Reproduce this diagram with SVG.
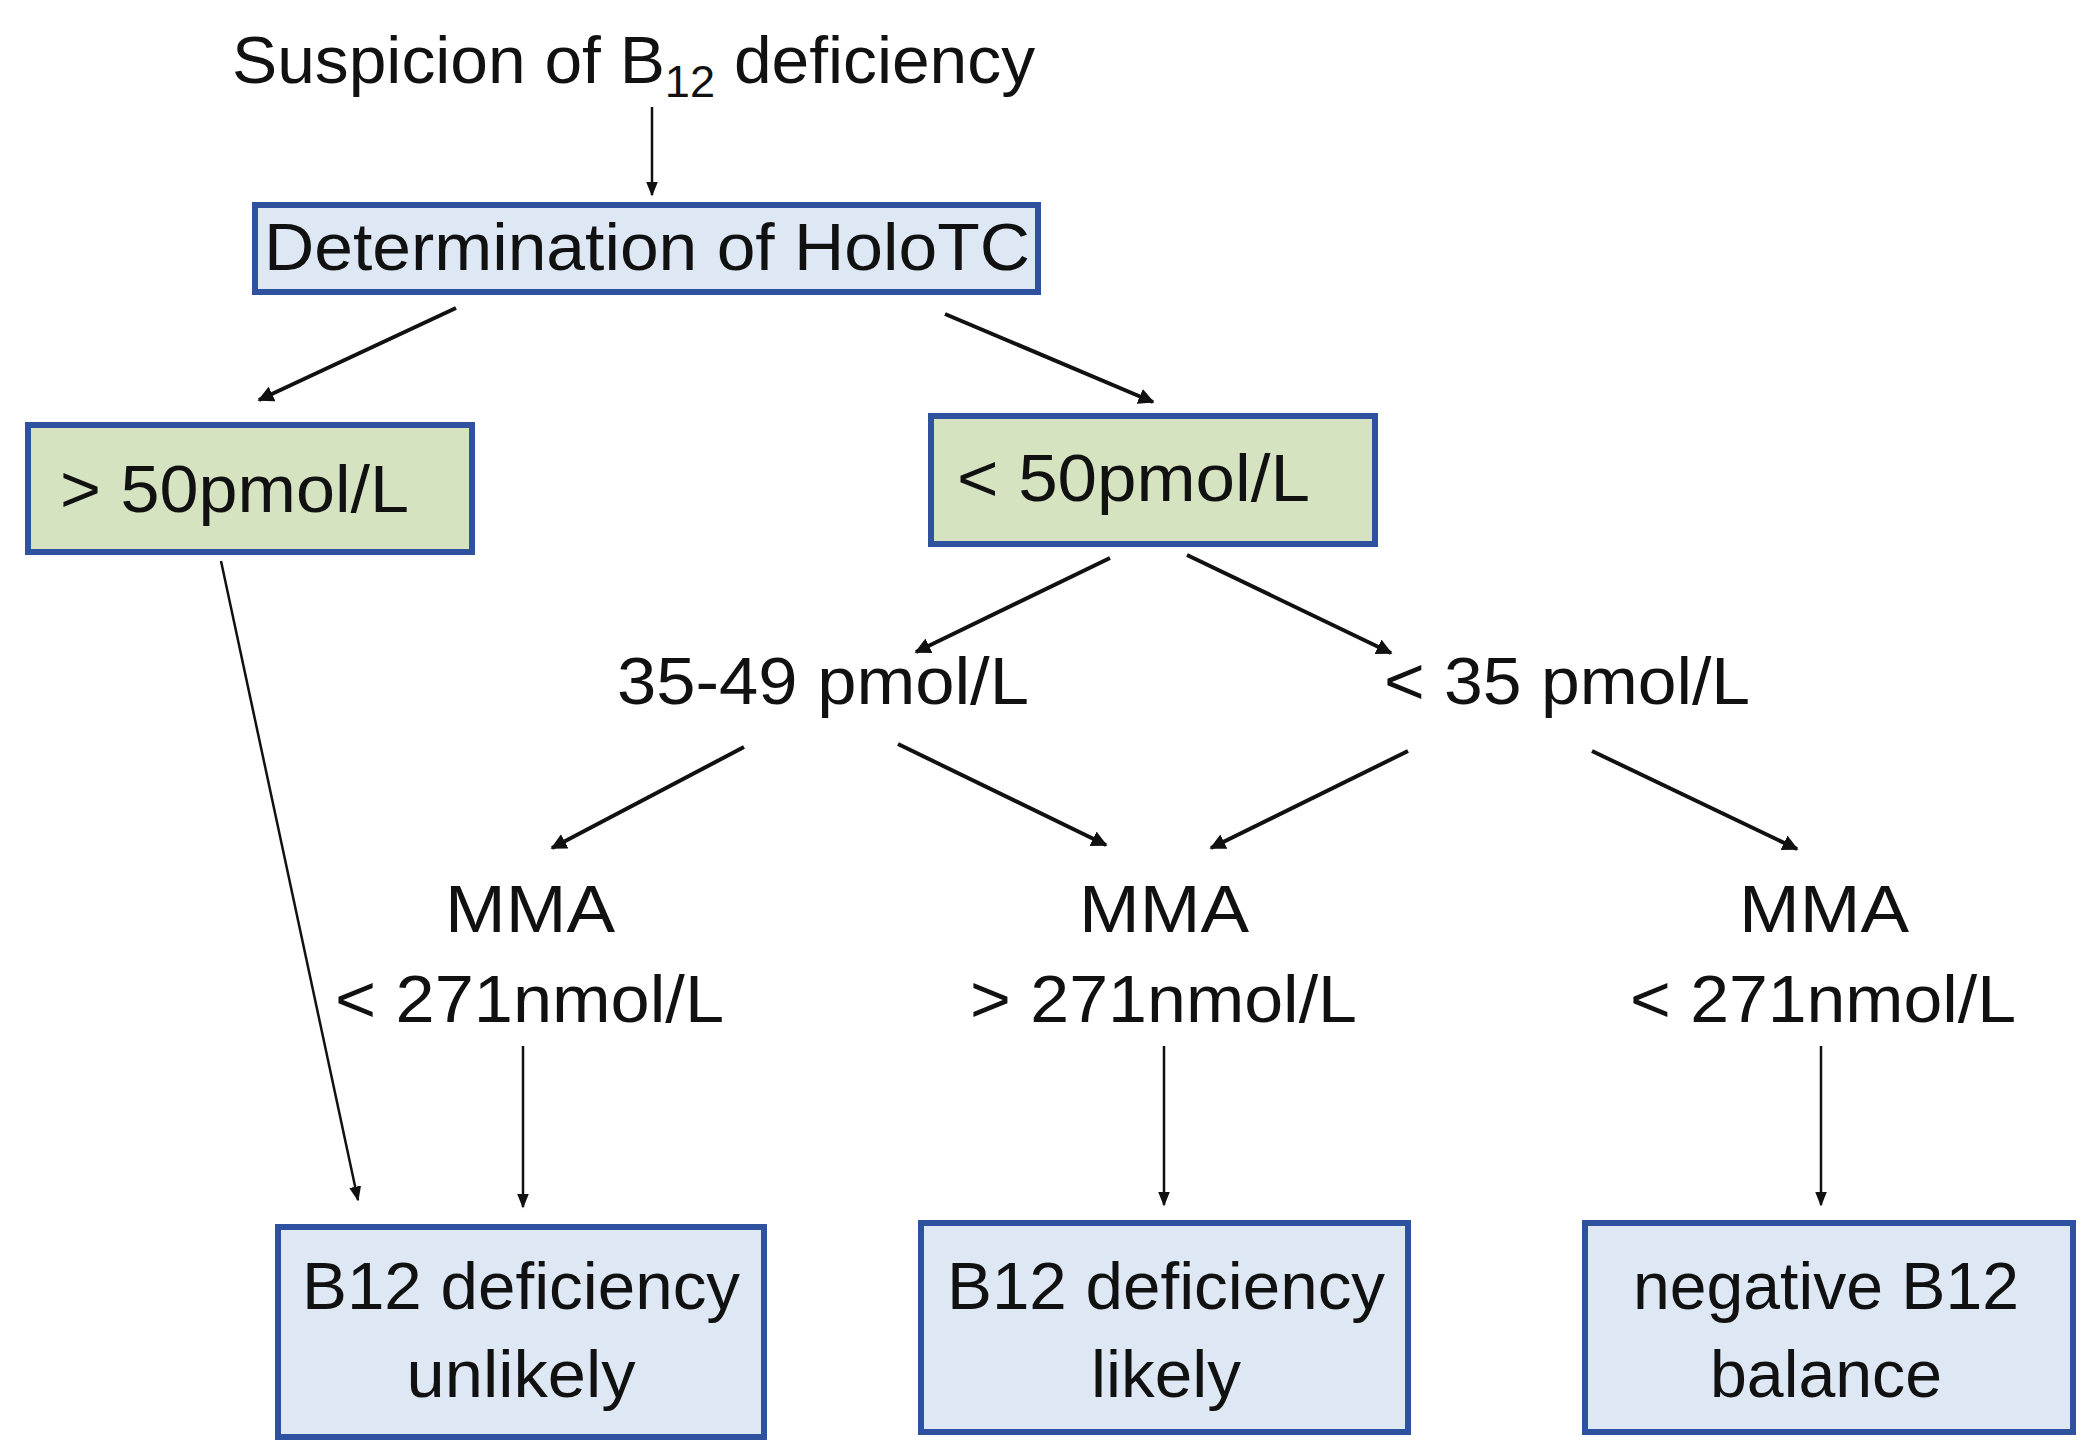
<svg xmlns="http://www.w3.org/2000/svg" width="2092" height="1452" viewBox="0 0 2092 1452">
<style>
text{font-family:"Liberation Sans",Arial,sans-serif;font-size:66px;fill:#111}
.c{text-anchor:middle}
.blue{fill:#DEE8F4;stroke:#2F52A0;stroke-width:6}
.green{fill:#D5E3C0;stroke:#2F52A0;stroke-width:6}
.ln{stroke:#111;stroke-width:4;fill:none;marker-end:url(#ah)}
.thin{stroke:#111;stroke-width:2.5;fill:none;marker-end:url(#ah2)}
</style>
<defs>
<marker id="ah" viewBox="0 0 10 10" refX="9" refY="5" markerWidth="4" markerHeight="4" orient="auto"><path d="M0,0 L10,5 L0,10 z" fill="#111"/></marker>
<marker id="ah2" viewBox="0 0 10 10" refX="9" refY="5" markerWidth="6" markerHeight="6" orient="auto"><path d="M0,1 L10,5 L0,9 z" fill="#111"/></marker>
</defs>
<rect width="2092" height="1452" fill="#fff"/>
<g id="title"><text x="232" y="83" textLength="803" lengthAdjust="spacingAndGlyphs">Suspicion of B<tspan font-size="44" dy="14">12</tspan><tspan dy="-14"> deficiency</tspan></text></g>
<g id="holotc"><rect class="blue" x="255" y="205" width="783" height="87"/><text x="264" y="270" textLength="766" lengthAdjust="spacingAndGlyphs">Determination of HoloTC</text></g>
<g id="gt50"><rect class="green" x="28" y="425" width="444" height="127"/><text x="60" y="512" textLength="349" lengthAdjust="spacingAndGlyphs">&gt; 50pmol/L</text></g>
<g id="lt50"><rect class="green" x="931" y="416" width="444" height="128"/><text x="957" y="501" textLength="353" lengthAdjust="spacingAndGlyphs">&lt; 50pmol/L</text></g>
<g id="r3549"><text x="617" y="704" textLength="412" lengthAdjust="spacingAndGlyphs">35-49 pmol/L</text></g>
<g id="r35"><text x="1384" y="704" textLength="366" lengthAdjust="spacingAndGlyphs">&lt; 35 pmol/L</text></g>
<g id="mma1"><text class="c" x="530" y="932" textLength="170" lengthAdjust="spacingAndGlyphs">MMA</text><text x="335" y="1022" textLength="389" lengthAdjust="spacingAndGlyphs">&lt; 271nmol/L</text></g>
<g id="mma2"><text class="c" x="1164" y="932" textLength="170" lengthAdjust="spacingAndGlyphs">MMA</text><text x="970" y="1022" textLength="387" lengthAdjust="spacingAndGlyphs">&gt; 271nmol/L</text></g>
<g id="mma3"><text class="c" x="1824" y="932" textLength="170" lengthAdjust="spacingAndGlyphs">MMA</text><text x="1630" y="1022" textLength="386" lengthAdjust="spacingAndGlyphs">&lt; 271nmol/L</text></g>
<g id="unlikely"><rect class="blue" x="278" y="1227" width="486" height="210"/><text class="c" x="521" y="1309" textLength="438" lengthAdjust="spacingAndGlyphs">B12 deficiency</text><text class="c" x="521" y="1397" textLength="229" lengthAdjust="spacingAndGlyphs">unlikely</text></g>
<g id="likely"><rect class="blue" x="921" y="1223" width="487" height="209"/><text class="c" x="1166" y="1309" textLength="438" lengthAdjust="spacingAndGlyphs">B12 deficiency</text><text class="c" x="1166" y="1397" textLength="150" lengthAdjust="spacingAndGlyphs">likely</text></g>
<g id="negative"><rect class="blue" x="1585" y="1223" width="488" height="209"/><text class="c" x="1826" y="1309" textLength="386" lengthAdjust="spacingAndGlyphs">negative B12</text><text class="c" x="1826" y="1397" textLength="232" lengthAdjust="spacingAndGlyphs">balance</text></g>
<g id="connectors">
<line class="thin" x1="652" y1="107" x2="652" y2="195"/>
<line class="ln" x1="456" y1="308" x2="259" y2="400"/>
<line class="ln" x1="945" y1="314" x2="1153" y2="402"/>
<line class="thin" x1="221" y1="561" x2="358" y2="1200"/>
<line class="ln" x1="1110" y1="558" x2="916" y2="652"/>
<line class="ln" x1="1187" y1="555" x2="1391" y2="653"/>
<line class="ln" x1="744" y1="747" x2="552" y2="848"/>
<line class="ln" x1="898" y1="744" x2="1106" y2="845"/>
<line class="ln" x1="1408" y1="751" x2="1211" y2="848"/>
<line class="ln" x1="1592" y1="751" x2="1797" y2="849"/>
<line class="thin" x1="523" y1="1046" x2="523" y2="1207"/>
<line class="thin" x1="1164" y1="1046" x2="1164" y2="1205"/>
<line class="thin" x1="1821" y1="1046" x2="1821" y2="1205"/>
</g>
</svg>
